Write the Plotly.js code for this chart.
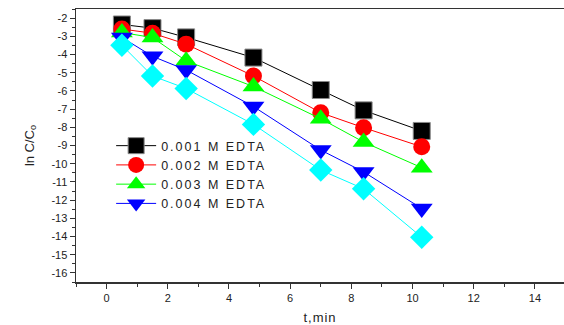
<!DOCTYPE html>
<html>
<head>
<meta charset="utf-8">
<script src="https://cdn.plot.ly/plotly-3.0.1.min.js"></script>
<style>
html,body{margin:0;padding:0;background:#fff;}
#chart{width:564px;height:325px;}
.legendtext{letter-spacing:2px;}
.xtitle{letter-spacing:1px;}
</style>
</head>
<body>
<div id="chart"></div>
<script>
const timeMin = [0.5, 1.5, 2.6, 4.8, 7.0, 8.4, 10.3];
const edta001 = [-2.35, -2.55, -3.06, -4.17, -5.95, -7.07, -8.2];
const edta002 = [-2.6, -2.83, -3.43, -5.18, -7.2, -8.02, -9.07];
const edta003 = [-2.79, -3.07, -4.35, -5.76, -7.53, -8.81, -10.22];
const edta004 = [-3.06, -4.1, -4.85, -6.86, -9.25, -10.45, -12.46];
const edta005 = [-3.49, -5.18, -5.87, -7.84, -10.35, -11.38, -14.04];
const seriesNames = ['0.001 M EDTA', '0.002 M EDTA', '0.003 M EDTA', '0.004 M EDTA', '0.005 M EDTA'];
const xTicks = [0, 2, 4, 6, 8, 10, 12, 14];
const yTicks = [-2, -3, -4, -5, -6, -7, -8, -9, -10, -11, -12, -13, -14, -15, -16];
const yTickText = yTicks.map(v => String(v));

const colors = ['#000000', '#ff0000', '#00ff00', '#0000ff', '#00ffff'];
const symbols = ['square', 'circle', 'triangle-up', 'triangle-down', 'diamond'];
const sizes = [17, 17, 19, 19, 18];
const ys = [edta001, edta002, edta003, edta004, edta005];

const traces = ys.map((y, i) => ({
  x: timeMin, y: y, name: seriesNames[i], type: 'scatter', mode: 'lines+markers',
  showlegend: i < 4,
  line: {color: colors[i], width: 1},
  marker: {symbol: symbols[i], size: sizes[i], color: colors[i],
           line: {width: i === 0 ? 1 : 0, color: '#888'}}
}));

const layout = {
  width: 564, height: 325,
  margin: {l: 76, r: 0, t: 9, b: 43},
  paper_bgcolor: '#fff', plot_bgcolor: '#fff',
  font: {family: 'Liberation Sans, Arial, sans-serif', size: 11, color: '#222'},
  showlegend: true,
  legend: {x: 0.072, y: 0.553, xanchor: 'left', yanchor: 'top', bgcolor: 'rgba(0,0,0,0)',
           traceorder: 'normal', font: {size: 12.5, color: '#222'}, itemwidth: 40},
  xaxis: {
    range: [-1, 14.95], showgrid: false, zeroline: false,
    showline: true, linecolor: '#333', linewidth: 1.5, mirror: true,
    ticks: 'outside', ticklen: 5, tickcolor: '#333', tickwidth: 1,
    tickvals: xTicks, ticktext: xTicks.map(String),
    minor: {dtick: 1, tick0: 0, ticks: 'outside', ticklen: 3, tickcolor: '#333'},
    title: {text: 't,min', font: {size: 13}, standoff: 12}
  },
  yaxis: {
    range: [-16.5, -1.5], showgrid: false, zeroline: false,
    showline: true, linecolor: '#333', linewidth: 1.5, mirror: false,
    ticks: 'outside', ticklen: 5, tickcolor: '#333', tickwidth: 1,
    tickvals: yTicks, ticktext: yTickText,
    minor: {dtick: 0.5, tick0: 0, ticks: 'outside', ticklen: 3, tickcolor: '#333'},
    title: {text: 'ln C/C<sub>o</sub>', font: {size: 13}, standoff: 14}
  }
};

Plotly.newPlot('chart', traces, layout, {displayModeBar: false, staticPlot: true});
</script>
</body>
</html>
